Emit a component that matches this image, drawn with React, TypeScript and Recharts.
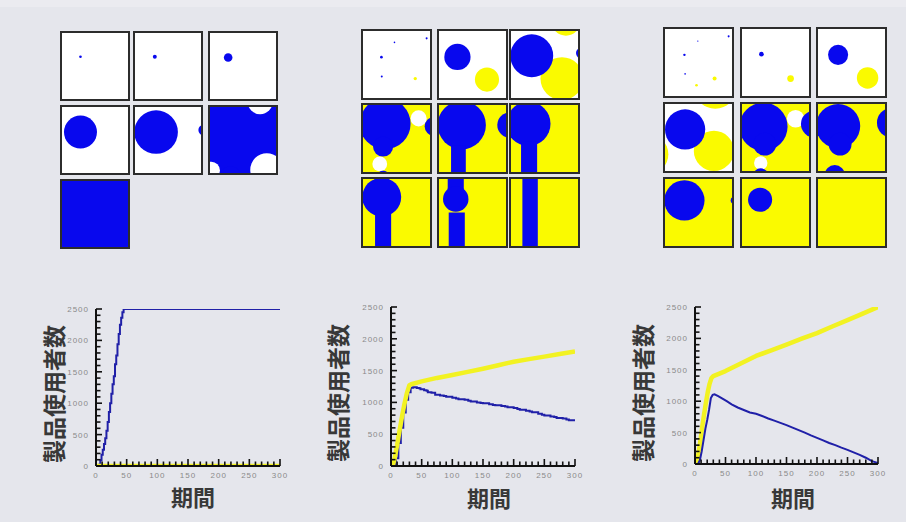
import React from 'react';
import { LineChart, Line, XAxis, YAxis, ScatterChart, Scatter } from 'recharts';

// ---------- line chart data: [period, users] ----------
const leftBlue: [number, number][] = [
  [0, 0], [3, 0], [5, 20], [7, 90], [9, 180], [11, 260], [13, 350], [15, 440], [17, 560], [19, 700],
  [21, 860], [23, 1000], [25, 1150], [27, 1300], [29, 1430], [31, 1620], [33, 1760], [35, 1940],
  [37, 2100], [39, 2250], [41, 2360], [43, 2450], [45, 2500], [300, 2500],
];
const leftYellow: [number, number][] = [[0, 0], [300, 0]];

const midBlue: [number, number][] = [
  [0, 0], [4, 0], [8, 120], [12, 360], [16, 600], [20, 840], [24, 1040], [28, 1160], [32, 1230],
  [36, 1240], [42, 1228], [46, 1222], [48, 1205], [54, 1190], [58, 1185], [60, 1160], [66, 1150],
  [72, 1120], [80, 1110], [86, 1100], [90, 1090], [100, 1075], [106, 1060], [110, 1050], [120, 1040],
  [126, 1025], [130, 1015], [140, 1000], [146, 990], [150, 985], [160, 970], [166, 960], [170, 955],
  [180, 945], [186, 935], [190, 925], [200, 910], [206, 895], [210, 885], [220, 870], [226, 855],
  [230, 845], [240, 820], [246, 805], [250, 795], [260, 780], [266, 770], [270, 755], [280, 745],
  [286, 730], [290, 720], [300, 705],
];
const midYellow: [number, number][] = [
  [0, 0], [3, 10], [6, 120], [10, 330], [14, 560], [18, 780], [22, 980], [26, 1150], [30, 1270],
  [33, 1285], [50, 1330], [75, 1385], [100, 1430], [125, 1480], [150, 1530], [175, 1585],
  [200, 1640], [225, 1680], [250, 1720], [275, 1760], [300, 1800],
];

const rightBlue: [number, number][] = [
  [0, 0], [5, 0], [8, 60], [11, 200], [14, 380], [17, 560], [20, 700], [23, 860], [26, 1050],
  [29, 1100], [32, 1110], [38, 1080], [45, 1040], [52, 1000], [60, 950], [70, 900], [80, 860],
  [90, 820], [100, 800], [110, 765], [120, 725], [130, 690], [140, 655], [150, 620], [160, 580],
  [170, 540], [180, 500], [190, 455], [200, 415], [210, 375], [220, 335], [230, 300], [240, 260],
  [250, 225], [260, 185], [270, 145], [280, 100], [290, 45], [300, 15],
];
const rightYellow: [number, number][] = [
  [0, 0], [3, 40], [6, 180], [9, 380], [12, 600], [15, 800], [18, 980], [21, 1150], [24, 1280],
  [27, 1370], [30, 1400], [40, 1440], [50, 1480], [60, 1530], [75, 1600], [100, 1720], [125, 1810],
  [150, 1900], [175, 1995], [200, 2085], [225, 2190], [250, 2290], [275, 2395], [300, 2500],
];

// ---------- axis ticks ----------
const xTickValues = [0, 10, 20, 30, 40, 50, 60, 70, 80, 90, 100, 110, 120, 130, 140, 150, 160, 170, 180, 190, 200, 210, 220, 230, 240, 250, 260, 270, 280, 290, 300];
const xTickLabels = [0, 50, 100, 150, 200, 250, 300];
const yTickValues = [0, 100, 200, 300, 400, 500, 600, 700, 800, 900, 1000, 1100, 1200, 1300, 1400, 1500, 1600, 1700, 1800, 1900, 2000, 2100, 2200, 2300, 2400, 2500];
const yTickLabels = [0, 500, 1000, 1500, 2000, 2500];

const yTitle = '製品使用者数';
const xTitle = '期間';

// ---------- snapshot cells (units 0..100, y downward) ----------
type Blob = { c: string; x: number; y: number; r?: number; w?: number; h?: number };
type Snap = { bg: string; blobs: Blob[] };

const leftSnaps: Snap[] = [
  { bg: 'w', blobs: [{ c: 'b', x: 28, y: 36, r: 2 }] },
  { bg: 'w', blobs: [{ c: 'b', x: 30, y: 36, r: 3 }] },
  { bg: 'w', blobs: [{ c: 'b', x: 27.5, y: 37, r: 6.5 }] },
  { bg: 'w', blobs: [{ c: 'b', x: 28, y: 38, r: 25 }] },
  { bg: 'w', blobs: [{ c: 'b', x: 32, y: 38, r: 33 }, { c: 'b', x: 104, y: 35, r: 8 }] },
  { bg: 'b', blobs: [
    { c: 'w', x: 76, y: -8, r: 19 }, { c: 'w', x: 86, y: 95, r: 25 }, { c: 'w', x: 2, y: 96, r: 13 },
    { c: 'b', x: 31, y: 108, r: 18 },
  ] },
  { bg: 'b', blobs: [] },
];

const midSnaps: Snap[] = [
  { bg: 'w', blobs: [
    { c: 'b', x: 27.5, y: 39, r: 2 }, { c: 'b', x: 95, y: 11, r: 1.5 }, { c: 'b', x: 47, y: 17, r: 1.2 },
    { c: 'b', x: 28, y: 68, r: 1.5 }, { c: 'y', x: 78, y: 71, r: 2.5 },
  ] },
  { bg: 'w', blobs: [{ c: 'b', x: 27.5, y: 38.7, r: 19.6 }, { c: 'y', x: 71.6, y: 72.5, r: 18 }] },
  { bg: 'w', blobs: [
    { c: 'y', x: 76, y: 71, r: 32 }, { c: 'y', x: 82, y: -15, r: 22 },
    { c: 'b', x: 31, y: 37, r: 32 }, { c: 'b', x: 105, y: 33, r: 8 },
  ] },
  { bg: 'y', blobs: [
    { c: 'w', x: 83, y: 20, r: 12 }, { c: 'w', x: 25, y: 88, r: 11 },
    { c: 'b', x: 33, y: 28, r: 38 }, { c: 'b', x: 30, y: 62, r: 15 },
    { c: 'b', x: 106, y: 32, r: 14 }, { c: 'b', x: 30, y: 108, r: 10 },
  ] },
  { bg: 'y', blobs: [
    { c: 'b', x: 34, y: 30, r: 36 }, { c: 'b', x: 29, y: 80, w: 22, h: 40 }, { c: 'b', x: 106, y: 30, r: 19 },
  ] },
  { bg: 'y', blobs: [{ c: 'b', x: 26, y: 28, r: 33 }, { c: 'b', x: 27, y: 77.5, w: 24, h: 45 }] },
  { bg: 'y', blobs: [{ c: 'b', x: 28, y: 27, r: 29 }, { c: 'b', x: 30, y: 75, w: 24, h: 50 }] },
  { bg: 'y', blobs: [
    { c: 'b', x: 25, y: 10, w: 24, h: 20 }, { c: 'b', x: 25, y: 30, r: 19 }, { c: 'b', x: 26.5, y: 75, w: 24, h: 50 },
  ] },
  { bg: 'y', blobs: [{ c: 'b', x: 28.5, y: 50, w: 23, h: 110 }] },
];

const rightSnaps: Snap[] = [
  { bg: 'w', blobs: [
    { c: 'b', x: 29, y: 38.6, r: 1.8 }, { c: 'b', x: 95, y: 11, r: 1.5 }, { c: 'b', x: 49, y: 18, r: 1 },
    { c: 'b', x: 30, y: 67, r: 1.2 }, { c: 'y', x: 74, y: 74, r: 3 }, { c: 'y', x: 47, y: 84, r: 2 },
  ] },
  { bg: 'w', blobs: [{ c: 'b', x: 29, y: 37.6, r: 3.5 }, { c: 'y', x: 72.5, y: 74, r: 5 }] },
  { bg: 'w', blobs: [{ c: 'b', x: 30, y: 38.6, r: 15 }, { c: 'y', x: 74, y: 73, r: 16 }] },
  { bg: 'w', blobs: [
    { c: 'y', x: 73, y: 70, r: 30 }, { c: 'y', x: 75, y: -25, r: 32 }, { c: 'y', x: -25, y: 75, r: 30 },
    { c: 'b', x: 30, y: 38, r: 30 },
  ] },
  { bg: 'y', blobs: [
    { c: 'w', x: 80, y: 22, r: 13 }, { c: 'w', x: 28, y: 88, r: 10 },
    { c: 'b', x: 32, y: 34, r: 36 }, { c: 'b', x: 34, y: 60, r: 17 },
    { c: 'b', x: 28, y: 108, r: 12 }, { c: 'b', x: 108, y: 30, r: 20 },
  ] },
  { bg: 'y', blobs: [
    { c: 'b', x: 30, y: 33, r: 33 }, { c: 'b', x: 33, y: 60, r: 17 },
    { c: 'b', x: 110, y: 28, r: 22 }, { c: 'b', x: 25, y: 106, r: 15 },
  ] },
  { bg: 'y', blobs: [{ c: 'b', x: 29, y: 32, r: 30 }, { c: 'b', x: 103, y: 32, r: 5 }] },
  { bg: 'y', blobs: [{ c: 'b', x: 27, y: 31, r: 18 }] },
  { bg: 'y', blobs: [] },
];

// ---------- styling / layout ----------
const BG = '#e5e6ec';
const CELL_COLORS: Record<string, string> = { b: '#0808ee', y: '#fafa00', w: '#ffffff' };
const LINE_BLUE = '#2020a8';
const LINE_YELLOW = '#f2f222';
const TICK_FONT = '"Liberation Sans", Arial, sans-serif';
const TITLE_FONT = '"Noto Sans CJK JP", "Noto Sans CJK SC", sans-serif';

const toPts = (arr: [number, number][]) => arr.map(([t, v]) => ({ t, v }));

function Snapshot({ snap, left, top, size }: { snap: Snap; left: number; top: number; size: number }) {
  const inner = size - 4;
  const s = inner / 100;
  const data = snap.blobs.map((b, i) => ({ ...b, i }));
  const shape = (p: any) => {
    const { cx, cy, payload } = p;
    const fill = CELL_COLORS[payload.c];
    if (payload.w !== undefined) {
      const w = payload.w * s;
      const h = payload.h * s;
      return <rect x={cx - w / 2} y={cy - h / 2} width={w} height={h} fill={fill} />;
    }
    return <circle cx={cx} cy={cy} r={payload.r * s} fill={fill} />;
  };
  return (
    <div
      style={{
        position: 'absolute', left, top, width: size, height: size, boxSizing: 'border-box',
        border: '2px solid #2c2c2c', background: CELL_COLORS[snap.bg], overflow: 'hidden',
      }}
    >
      <ScatterChart width={inner} height={inner} margin={{ top: 0, right: 0, bottom: 0, left: 0 }}>
        <XAxis type="number" dataKey="x" domain={[0, 100]} allowDataOverflow hide />
        <YAxis type="number" dataKey="y" domain={[0, 100]} allowDataOverflow hide reversed />
        <Scatter data={data} isAnimationActive={false} shape={shape} />
      </ScatterChart>
    </div>
  );
}

function Grid({ snaps, xs, ys, size }: { snaps: Snap[]; xs: number[]; ys: number[]; size: number }) {
  return (
    <>
      {snaps.map((snap, i) => (
        <Snapshot key={i} snap={snap} left={xs[i % 3]} top={ys[Math.floor(i / 3)]} size={size} />
      ))}
    </>
  );
}

const XTick = (props: any) => {
  const { x, y, payload } = props;
  const v = payload.value;
  const major = xTickLabels.includes(v);
  return (
    <g>
      <line x1={x} x2={x} y1={y} y2={y - (major ? 7 : 4.5)} stroke="#111" strokeWidth={1.6} />
      {major && (
        <text x={x} y={y + 12} textAnchor="middle" fontSize={8} letterSpacing={1} fill="#8a8a8a" fontFamily={TICK_FONT}>
          {v}
        </text>
      )}
    </g>
  );
};

const YTick = (props: any) => {
  const { x, y, payload } = props;
  const v = payload.value;
  const major = yTickLabels.includes(v);
  return (
    <g>
      <line x1={x} x2={x + (major ? 6 : 4.5)} y1={y} y2={y} stroke="#111" strokeWidth={1.6} />
      {major && (
        <text x={x - 7} y={y + 3} textAnchor="end" fontSize={8} letterSpacing={1} fill="#8a8a8a" fontFamily={TICK_FONT}>
          {v}
        </text>
      )}
    </g>
  );
};

function UsageChart({
  blue, yellow, plot, yellowOnTop, blueType, yTitlePos, xTitlePos,
}: {
  blue: [number, number][]; yellow: [number, number][];
  plot: { l: number; r: number; t: number; b: number };
  yellowOnTop: boolean; blueType: 'stepAfter' | 'linear';
  yTitlePos: [number, number]; xTitlePos: [number, number];
}) {
  const w = plot.r - plot.l;
  const h = plot.b - plot.t;
  const blueLine = (
    <Line key="blue" data={toPts(blue)} dataKey="v" type={blueType} stroke={LINE_BLUE} strokeWidth={2}
      dot={false} isAnimationActive={false} />
  );
  const yellowLine = (
    <Line key="yellow" data={toPts(yellow)} dataKey="v" type="linear" stroke={LINE_YELLOW} strokeWidth={4.5}
      dot={false} isAnimationActive={false} strokeLinejoin="round" />
  );
  return (
    <>
      <div style={{ position: 'absolute', left: plot.l - 50, top: plot.t - 10 }}>
        <LineChart width={w + 65} height={h + 50} margin={{ top: 10, right: 15, left: 10, bottom: 10 }}>
          <XAxis type="number" dataKey="t" domain={[0, 300]} ticks={xTickValues} interval={0} height={30}
            tickSize={0} tickMargin={0} tickLine={false} axisLine={{ stroke: '#111', strokeWidth: 2 }} tick={<XTick />} allowDataOverflow />
          <YAxis type="number" domain={[0, 2500]} ticks={yTickValues} interval={0} width={40}
            tickSize={0} tickMargin={0} tickLine={false} axisLine={{ stroke: '#111', strokeWidth: 2 }} tick={<YTick />} allowDataOverflow />
          {yellowOnTop ? [blueLine, yellowLine] : [yellowLine, blueLine]}
        </LineChart>
      </div>
      <div
        style={{
          position: 'absolute', left: yTitlePos[0], top: yTitlePos[1], transform: 'translate(-50%, -50%) rotate(-90deg)',
          whiteSpace: 'nowrap', fontFamily: TITLE_FONT, fontWeight: 700, fontSize: 23, color: '#383838', lineHeight: 1,
        }}
      >
        {yTitle}
      </div>
      <div
        style={{
          position: 'absolute', left: xTitlePos[0], top: xTitlePos[1], transform: 'translate(-50%, -50%)',
          whiteSpace: 'nowrap', fontFamily: TITLE_FONT, fontWeight: 700, fontSize: 22, color: '#383838', lineHeight: 1,
        }}
      >
        {xTitle}
      </div>
    </>
  );
}

export default function App() {
  return (
    <div style={{ position: 'absolute', left: 0, top: 0, width: 906, height: 522, background: BG, overflow: 'hidden' }}>
      <div style={{ position: 'absolute', left: 0, top: 0, width: 906, height: 7, background: '#ebebf0' }} />
      <Grid snaps={leftSnaps} xs={[60, 133, 208]} ys={[31, 105, 179]} size={70} />
      <Grid snaps={midSnaps} xs={[361, 437, 509]} ys={[29, 103, 177]} size={71} />
      <Grid snaps={rightSnaps} xs={[663, 740, 816]} ys={[27, 102, 177]} size={71} />

      <UsageChart blue={leftBlue} yellow={leftYellow} plot={{ l: 96, r: 280, t: 309, b: 466 }} yellowOnTop
        blueType="stepAfter" yTitlePos={[53, 394]} xTitlePos={[193, 496]} />
      <UsageChart blue={midBlue} yellow={midYellow} plot={{ l: 391, r: 575, t: 307, b: 466 }} yellowOnTop
        blueType="stepAfter" yTitlePos={[337, 393]} xTitlePos={[489, 497]} />
      <UsageChart blue={rightBlue} yellow={rightYellow} plot={{ l: 695, r: 878, t: 307, b: 464 }} yellowOnTop={false}
        blueType="linear" yTitlePos={[642, 393]} xTitlePos={[793, 497]} />
    </div>
  );
}
